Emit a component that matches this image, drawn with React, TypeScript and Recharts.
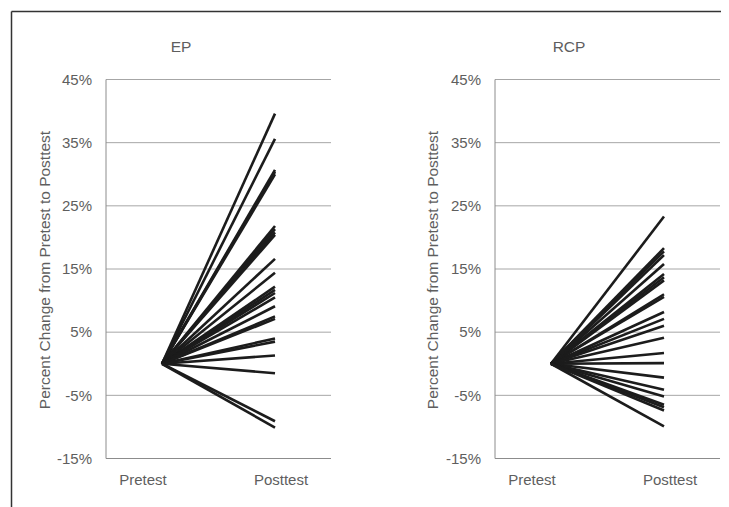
import { LineChart, Line, XAxis, YAxis, CartesianGrid } from "recharts";

// percent change from pretest to posttest, one entry per participant
const phases = ["Pretest", "Posttest"];
const pretestChange = 0;
const epChange = [
  39.6, 35.6, 30.7, 30.4, 30.0, 21.8, 21.3, 20.8, 20.4, 16.6, 14.4, 12.2,
  11.7, 11.2, 10.5, 9.1, 7.5, 7.1, 4.0, 3.5, 1.3, -1.5, -9.1, -10.1,
];
const rcpChange = [
  23.3, 18.3, 17.8, 17.2, 15.8, 14.2, 13.7, 13.2, 11.0, 10.6, 8.2, 7.1, 6.0,
  4.1, 1.7, 0.1, -2.2, -4.1, -5.2, -6.5, -6.9, -7.4, -9.9,
];
const yTicks = [-15, -5, 5, 15, 25, 35, 45];
const titles = ["EP", "RCP"];
const yLabel = "Percent Change from Pretest to Posttest";

const FONT = "'Liberation Sans', Arial, sans-serif";
const TEXT = "#5e5e5e";

function buildRows(values: number[]) {
  const pre: any = { phase: phases[0] };
  const post: any = { phase: phases[1] };
  values.forEach((v, i) => {
    pre[`s${i}`] = pretestChange;
    post[`s${i}`] = v;
  });
  return [pre, post];
}

const PhaseTick = ({ x, y, payload }: any) => {
  const shift = payload.value === phases[0] ? -19 : 6;
  return (
    <text x={x + shift} y={y} dy={18} textAnchor="middle" fill={TEXT} fontSize={15} fontFamily={FONT}>
      {payload.value}
    </text>
  );
};

function Panel({ values, left }: { values: number[]; left: number }) {
  const rows = buildRows(values);
  return (
    <div style={{ position: "absolute", left, top: 60 }}>
      <LineChart width={288} height={430} data={rows} margin={{ top: 11.5, right: 5, left: 0, bottom: 0 }}>
        <CartesianGrid horizontal vertical={false} stroke="#a6a6a6" strokeWidth={1} />
        <XAxis
          dataKey="phase"
          height={39.5}
          padding={{ left: 56, right: 56 }}
          tickLine={false}
          axisLine={{ stroke: "#8c8c8c" }}
          tick={<PhaseTick />}
          interval={0}
        />
        <YAxis
          width={58}
          domain={[-15, 45]}
          ticks={yTicks}
          interval={0}
          tickLine={false}
          tickSize={6}
          tickMargin={8}
          axisLine={{ stroke: "#8c8c8c" }}
          tickFormatter={(v) => `${v}%`}
          tick={{ fill: TEXT, fontSize: 15, fontFamily: FONT }}
        />
        {values.map((_, i) => (
          <Line
            key={i}
            dataKey={`s${i}`}
            stroke="#1c1c1c"
            strokeWidth={2.6}
            dot={false}
            activeDot={false}
            isAnimationActive={false}
          />
        ))}
      </LineChart>
    </div>
  );
}

export default function App() {
  return (
    <div style={{ position: "relative", width: 721, height: 499, overflow: "hidden", background: "#fff" }}>
      <svg width={721} height={499} style={{ position: "absolute", left: 0, top: 0 }}>
        <line x1={3.5} y1={3.5} x2={721} y2={3.5} stroke="#333" strokeWidth={1.5} />
        <line x1={3.5} y1={3.5} x2={3.5} y2={499} stroke="#333" strokeWidth={1.5} />
        <text x={173} y={44} textAnchor="middle" fill={TEXT} fontSize={15.5} fontFamily={FONT}>
          {titles[0]}
        </text>
        <text x={561} y={44} textAnchor="middle" fill={TEXT} fontSize={15.5} fontFamily={FONT}>
          {titles[1]}
        </text>
        <text
          transform="translate(42,262) rotate(-90)"
          textAnchor="middle"
          fill={TEXT}
          fontSize={15.5}
          fontFamily={FONT}
        >
          {yLabel}
        </text>
        <text
          transform="translate(430,262) rotate(-90)"
          textAnchor="middle"
          fill={TEXT}
          fontSize={15.5}
          fontFamily={FONT}
        >
          {yLabel}
        </text>
      </svg>
      <Panel values={epChange} left={40} />
      <Panel values={rcpChange} left={429} />
    </div>
  );
}
